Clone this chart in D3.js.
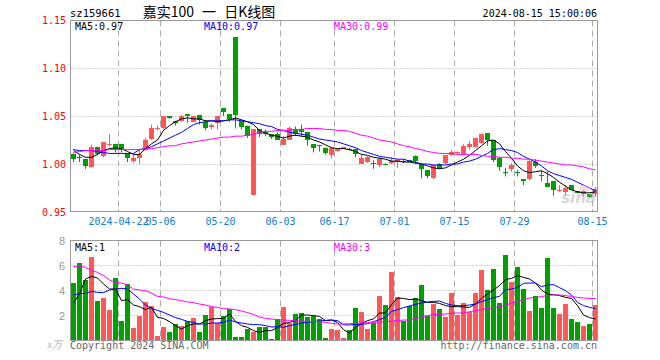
<!DOCTYPE html>
<html><head><meta charset="utf-8">
<script src="https://cdn.jsdelivr.net/npm/d3@7/dist/d3.min.js"></script>
<style>body{margin:0;background:#fff}svg{display:block}</style>
</head><body><div id="chart"></div>
<script>
const dates = [
"2024-04-10","2024-04-11","2024-04-12","2024-04-15","2024-04-16","2024-04-17","2024-04-18","2024-04-19","2024-04-22","2024-04-23","2024-04-24","2024-04-25","2024-04-26","2024-04-29","2024-04-30",
"2024-05-06","2024-05-07","2024-05-08","2024-05-09","2024-05-10","2024-05-13","2024-05-14","2024-05-15","2024-05-16","2024-05-17","2024-05-20","2024-05-21","2024-05-22","2024-05-23","2024-05-24","2024-05-27","2024-05-28","2024-05-29","2024-05-30","2024-05-31",
"2024-06-03","2024-06-04","2024-06-05","2024-06-06","2024-06-07","2024-06-11","2024-06-12","2024-06-13","2024-06-14","2024-06-17","2024-06-18","2024-06-19","2024-06-20","2024-06-21","2024-06-24","2024-06-25","2024-06-26","2024-06-27","2024-06-28",
"2024-07-01","2024-07-02","2024-07-03","2024-07-04","2024-07-05","2024-07-08","2024-07-09","2024-07-10","2024-07-11","2024-07-12","2024-07-15","2024-07-16","2024-07-17","2024-07-18","2024-07-19","2024-07-22","2024-07-23","2024-07-24","2024-07-25","2024-07-26","2024-07-29","2024-07-30","2024-07-31",
"2024-08-01","2024-08-02","2024-08-05","2024-08-06","2024-08-07","2024-08-08","2024-08-09","2024-08-12","2024-08-13","2024-08-14","2024-08-15"];

const opens = [1.010,1.007,1.005,0.997,1.018,1.008,1.020,1.021,1.021,1.011,1.003,1.006,1.015,1.026,1.036,1.037,1.050,1.045,1.045,1.052,1.044,1.051,1.044,1.039,1.043,1.058,1.052,1.132,1.045,1.040,
0.968,1.036,1.033,1.031,1.031,1.020,1.025,1.036,1.036,1.033,1.021,1.020,1.017,1.009,1.014,1.016,1.016,1.016,1.000,1.002,1.001,0.999,1.000,1.001,1.002,1.003,1.004,1.008,1.000,0.994,
0.985,1.000,1.001,1.009,1.011,1.010,1.018,1.018,1.022,1.032,1.025,1.006,0.992,0.995,0.992,0.984,0.984,1.002,0.989,0.980,0.982,0.972,0.971,0.978,0.972,0.969,0.969,0.969];
const highs = [1.011,1.010,1.005,1.020,1.018,1.023,1.031,1.021,1.021,1.011,1.010,1.015,1.027,1.041,1.040,1.050,1.050,1.045,1.051,1.052,1.050,1.051,1.046,1.042,1.050,1.058,1.052,1.132,1.045,1.040,
1.036,1.036,1.036,1.031,1.033,1.029,1.039,1.039,1.041,1.033,1.021,1.020,1.017,1.018,1.016,1.018,1.017,1.016,1.010,1.008,1.004,1.007,1.001,1.007,1.005,1.005,1.004,1.009,1.000,0.994,
0.999,1.001,1.009,1.015,1.013,1.021,1.024,1.027,1.032,1.032,1.025,1.007,0.996,1.001,0.994,0.984,1.004,1.005,0.993,0.992,0.982,0.978,0.978,0.978,0.972,0.973,0.969,0.976];
const lows = [1.002,1.002,0.995,0.996,1.009,1.007,1.018,1.012,1.012,1.002,1.001,1.000,1.014,1.025,1.035,1.036,1.047,1.040,1.044,1.043,1.044,1.041,1.035,1.036,1.036,1.050,1.044,1.037,1.036,1.027,
0.967,1.028,1.029,1.026,1.025,1.020,1.025,1.029,1.028,1.019,1.012,1.013,1.010,1.006,1.013,1.016,1.014,1.007,1.000,1.001,0.995,0.997,0.999,1.000,0.996,1.001,1.002,1.000,0.985,0.985,
0.984,0.995,1.000,1.008,1.010,1.009,1.015,1.017,1.021,1.019,1.002,0.993,0.987,0.992,0.987,0.978,0.983,0.996,0.982,0.976,0.967,0.971,0.967,0.973,0.970,0.966,0.965,0.966];
const closes = [1.005,1.006,0.998,1.018,1.010,1.023,1.021,1.015,1.015,1.006,1.006,1.010,1.025,1.037,1.038,1.050,1.048,1.043,1.050,1.050,1.050,1.046,1.037,1.041,1.050,1.054,1.047,1.051,1.039,1.029,
1.036,1.031,1.031,1.028,1.025,1.026,1.037,1.031,1.033,1.025,1.017,1.0195,1.011,1.017,1.016,1.018,1.015,1.010,1.006,1.007,1.000,1.005,0.9995,1.003,1.004,1.002,1.002,1.003,0.995,0.988,
0.999,0.996,1.009,1.012,1.012,1.019,1.021,1.027,1.031,1.025,1.004,0.997,0.9915,0.999,0.9915,0.982,1.003,0.998,0.987,0.976,0.973,0.9725,0.975,0.973,0.970,0.972,0.966,0.974];
const volumes = [4.67,6.27,4.91,6.75,3.23,3.47,2.51,5.01,1.63,4.59,1.07,1.97,3.15,2.83,0.37,1.15,0.75,1.36,1.23,1.60,1.87,0.75,2.11,2.75,1.44,1.97,2.53,0.35,0.35,0.99,
0.75,1.09,1.15,0.19,1.73,2.75,1.44,2.19,2.27,1.95,2.03,1.73,0.27,0.99,0.91,0.27,0.91,2.67,2.35,0.99,1.47,3.63,2.91,5.55,3.55,1.63,2.83,3.47,4.51,2.03,
2.99,2.59,1.95,3.87,2.11,3.07,2.35,3.87,5.71,4.11,5.79,3.07,6.91,4.75,5.95,4.19,2.43,3.63,2.67,6.67,2.67,2.19,2.99,1.79,1.55,1.23,1.39,2.91];

const ma5 = [1.014,1.010,1.007,1.007,1.010,1.014,1.016,1.017,1.016,1.013,1.010,1.010,1.016,1.021,1.025,1.035,1.040,1.044,1.047,1.048,1.047,1.047,1.045,1.045,1.044,1.045,1.046,1.048,1.046,1.044,
1.041,1.035,1.032,1.030,1.029,1.027,1.029,1.030,1.029,1.028,1.025,1.023,1.020,1.017,1.016,1.016,1.015,1.013,1.010,1.009,1.007,1.006,1.005,1.003,1.003,1.002,1.002,1.001,1.000,0.998,
0.996,0.995,0.996,0.999,1.002,1.005,1.009,1.014,1.019,1.024,1.025,1.021,1.013,1.006,0.998,0.993,0.991,0.992,0.993,0.990,0.986,0.981,0.977,0.973,0.971,0.970,0.970,0.971];
const ma10 = [1.015,1.014,1.014,1.014,1.013,1.012,1.011,1.011,1.011,1.011,1.011,1.015,1.016,1.018,1.021,1.024,1.027,1.030,1.033,1.037,1.041,1.043,1.044,1.045,1.045,1.045,1.046,1.046,1.045,1.044,
1.043,1.042,1.040,1.039,1.036,1.035,1.033,1.032,1.031,1.030,1.028,1.026,1.025,1.024,1.023,1.021,1.019,1.017,1.014,1.012,1.010,1.008,1.007,1.006,1.005,1.005,1.003,1.002,1.000,1.000,
0.999,0.999,0.999,1.000,1.000,1.002,1.003,1.005,1.008,1.011,1.015,1.016,1.015,1.014,1.012,1.008,1.005,1.002,0.998,0.993,0.990,0.988,0.986,0.984,0.981,0.978,0.975,0.972];
const ma30 = [1.012,1.013,1.014,1.014,1.014,1.014,1.015,1.015,1.015,1.015,1.015,1.015,1.016,1.016,1.017,1.018,1.019,1.019,1.021,1.022,1.023,1.024,1.025,1.026,1.027,1.028,1.028,1.029,1.029,1.030,
1.031,1.033,1.034,1.034,1.035,1.035,1.035,1.036,1.036,1.037,1.037,1.037,1.036,1.036,1.035,1.035,1.034,1.032,1.030,1.029,1.027,1.025,1.024,1.023,1.021,1.019,1.018,1.016,1.015,1.013,
1.012,1.011,1.011,1.011,1.010,1.010,1.010,1.010,1.009,1.008,1.008,1.007,1.007,1.006,1.006,1.005,1.005,1.004,1.003,1.002,1.001,1.000,0.999,0.999,0.998,0.997,0.995,0.994];

const vma5 = [3.04,3.76,4.96,5.17,5.04,4.56,4.16,4.16,3.23,3.31,2.88,2.75,2.51,2.69,1.89,1.81,1.55,1.23,0.96,1.23,1.36,1.36,1.63,1.76,1.79,1.81,2.16,1.57,1.23,1.09,
0.83,0.69,0.83,0.83,1.09,1.41,1.49,1.63,2.08,2.08,2.03,1.97,1.63,1.68,1.49,0.91,0.64,1.09,1.41,1.63,1.76,2.24,2.24,2.91,3.44,3.41,3.31,3.36,3.23,3.09,
3.09,3.01,2.83,2.75,2.75,2.72,2.69,2.96,3.41,3.76,4.08,4.43,4.91,5.01,5.23,5.09,4.96,4.64,4.08,3.76,3.71,3.63,3.49,3.41,2.83,2.08,1.87,1.76];
const vma10 = [3.68,3.79,3.81,3.97,3.89,3.87,4.08,4.16,4.21,4.16,3.76,3.36,2.88,2.61,2.45,2.29,2.08,1.87,1.73,1.57,1.49,1.36,1.36,1.44,1.44,1.49,1.68,1.52,1.44,1.36,
1.31,1.31,1.23,1.12,1.15,1.09,1.23,1.31,1.44,1.49,1.55,1.60,1.65,1.68,1.63,1.31,1.28,1.33,1.33,1.39,1.55,1.71,1.89,2.37,2.51,2.67,2.80,2.93,3.04,3.12,
3.17,3.20,3.01,2.88,2.83,2.83,2.88,2.96,3.15,3.31,3.47,3.57,4.11,4.16,4.29,4.61,4.64,4.64,4.35,4.48,4.51,4.27,4.03,3.68,3.09,2.83,2.69,2.59];
const vma30 = [5.95,6.00,5.89,5.65,5.49,5.25,4.88,4.67,4.64,4.48,4.16,4.08,4.03,3.84,3.57,3.52,3.39,3.31,3.23,3.12,3.07,2.96,2.88,2.75,2.69,2.59,2.56,2.51,2.40,2.27,
2.13,1.92,1.81,1.76,1.71,1.68,1.65,1.63,1.60,1.57,1.57,1.55,1.49,1.41,1.36,1.36,1.39,1.41,1.44,1.47,1.49,1.52,1.55,1.60,1.63,1.68,1.68,1.79,1.92,2.03,
2.11,2.13,2.16,2.21,2.24,2.24,2.35,2.43,2.51,2.59,2.67,2.75,2.88,3.04,3.15,3.31,3.44,3.49,3.55,3.65,3.68,3.68,3.63,3.57,3.49,3.44,3.41,3.39];

const priceTicks = [0.95,1.00,1.05,1.10,1.15];
const priceTickLabels = ["0.95","1.00","1.05","1.10","1.15"];
const volTicks = [2,4,6,8];
const dateTicks = ["2024-04-22","2024-05-06","2024-05-20","2024-06-03","2024-06-17","2024-07-01","2024-07-15","2024-07-29","2024-08-15"];
const dateTickLabels = ["2024-04-22","05-06","05-20","06-03","06-17","07-01","07-15","07-29","08-15"];
const titleCode = "sz159661";
const titleName = "嘉实100 一 日K线图";
const stamp = "2024-08-15 15:00:06";
const priceLegend = ["MA5:0.97","MA10:0.97","MA30:0.99"];
const volLegend = ["MA5:1","MA10:2","MA30:3"];

const RED = "#ff5757", GREEN = "#00a000", GRID = "#aaaaaa", BORDER = "#999999";
const MONO = "'DejaVu Sans Mono', 'Liberation Mono', monospace";

const svg = d3.select("#chart").append("svg").attr("width",660).attr("height",360);

const x = d3.scaleBand().domain(dates).range([71,599]).paddingInner(0).paddingOuter(0);
const y = d3.scaleLinear().domain([0.95,1.15]).range([212,20]);
const yv = d3.scaleLinear().domain([0,8]).range([341,241]);
const L = 70.5, R = 597.5;

const data = dates.map((d,i)=>({d, o:opens[i], h:highs[i], l:lows[i], c:closes[i], v:volumes[i],
  m5:ma5[i], m10:ma10[i], m30:ma30[i], vm5:vma5[i], vm10:vma10[i], vm30:vma30[i]}));
const col = d => d.c >= d.o ? RED : GREEN;

// ---- main grid
const gMain = svg.append("g");
gMain.selectAll("line.h").data([1.00,1.05,1.10]).join("line")
  .attr("x1",L).attr("x2",R).attr("y1",d=>Math.round(y(d))+0.5).attr("y2",d=>Math.round(y(d))+0.5)
  .attr("stroke",GRID).attr("stroke-dasharray","1,2");
gMain.selectAll("line.v").data(dateTicks).join("line")
  .attr("x1",d=>x(d)-0.5).attr("x2",d=>x(d)-0.5).attr("y1",20.5).attr("y2",211.5)
  .attr("stroke",GRID).attr("stroke-dasharray","6,4");

// volume grid
const gVol = svg.append("g");
gVol.selectAll("line.h").data([2,4,6]).join("line")
  .attr("x1",L).attr("x2",R).attr("y1",d=>Math.round(yv(d))-0.5).attr("y2",d=>Math.round(yv(d))-0.5)
  .attr("stroke",GRID).attr("stroke-dasharray","1,2");
gVol.selectAll("line.v").data(dateTicks).join("line")
  .attr("x1",d=>x(d)-0.5).attr("x2",d=>x(d)-0.5).attr("y1",240.5).attr("y2",340.5)
  .attr("stroke",GRID).attr("stroke-dasharray","6,4");

// ---- candles
const gC = svg.append("g");
gC.selectAll("line.wick").data(data).join("line")
  .attr("x1",d=>x(d.d)+2.5).attr("x2",d=>x(d.d)+2.5)
  .attr("y1",d=>y(d.h)).attr("y2",d=>y(d.l)).attr("stroke",col).attr("stroke-width",1);
gC.selectAll("rect.body").data(data).join("rect")
  .attr("x",d=>x(d.d)).attr("width",5)
  .attr("y",d=>Math.round(y(Math.max(d.o,d.c))))
  .attr("height",d=>Math.max(1,Math.round(y(Math.min(d.o,d.c))) - Math.round(y(Math.max(d.o,d.c)))))
  .attr("fill",col);

// ---- volume bars
gVol.selectAll("rect.bar").data(data).join("rect")
  .attr("x",d=>x(d.d)).attr("width",5)
  .attr("y",d=>Math.round(yv(d.v))).attr("height",d=>340-Math.round(yv(d.v)))
  .attr("fill",col);

// ---- MA lines
const cx = d => x(d.d)+2.5;
const lineDefs = [["m5","#000000"],["m10","#0000ff"],["m30","#ff00ff"]];
lineDefs.forEach(([k,c])=>{
  svg.append("path").datum(data).attr("fill","none").attr("stroke",c).attr("stroke-width",1)
    .attr("d",d3.line().x(cx).y(d=>y(d[k])));
});
const vlineDefs = [["vm5","#000000"],["vm10","#0000ff"],["vm30","#ff00ff"]];
vlineDefs.forEach(([k,c])=>{
  svg.append("path").datum(data).attr("fill","none").attr("stroke",c).attr("stroke-width",1)
    .attr("d",d3.line().x(cx).y(d=>yv(d[k])));
});

// ---- watermark
const wm = svg.append("g").attr("opacity",0.5);
wm.append("ellipse").attr("cx",585).attr("cy",188).attr("rx",6).attr("ry",3.5).attr("fill","#f4b8b8");
wm.append("text").attr("x",596).attr("y",203).attr("text-anchor","end")
  .attr("font-family","'DejaVu Sans', sans-serif").attr("font-weight","bold").attr("font-style","italic")
  .attr("font-size",15).attr("fill","#b0b0b0").text("sina");

// ---- borders
svg.append("rect").attr("x",L).attr("y",20.5).attr("width",R-L).attr("height",191).attr("fill","none").attr("stroke",BORDER);
svg.append("rect").attr("x",L).attr("y",240.5).attr("width",R-L).attr("height",100).attr("fill","none").attr("stroke",BORDER);

// x axis ticks + labels
const xa = svg.append("g").attr("transform","translate(0,211.5)");
xa.selectAll("line").data(dateTicks).join("line")
  .attr("x1",d=>x(d)-0.5).attr("x2",d=>x(d)-0.5).attr("y1",-2).attr("y2",0).attr("stroke",BORDER);
xa.selectAll("text").data(dateTicks).join("text")
  .attr("x",d=>x(d)-0.5).attr("y",13).attr("text-anchor","middle")
  .attr("font-family",MONO).attr("font-size",10).attr("fill","#0a7fcc")
  .text((d,i)=>dateTickLabels[i]);

// y labels
svg.append("g").selectAll("text").data(priceTicks).join("text")
  .attr("x",66).attr("y",(d,i)=>y(d)+4).attr("text-anchor","end")
  .attr("font-family",MONO).attr("font-size",10).attr("fill","#ff0000")
  .text((d,i)=>priceTickLabels[i]);
svg.append("g").selectAll("text").data(volTicks).join("text")
  .attr("x",65).attr("y",d=>yv(d)+4).attr("text-anchor","end")
  .attr("font-family","'Liberation Sans', Arial, sans-serif").attr("font-size",11).attr("fill","#999999")
  .text(d=>d);
svg.append("text").attr("x",62).attr("y",348).attr("text-anchor","end")
  .attr("font-family","'Liberation Serif', serif").attr("font-style","italic").attr("font-size",10).attr("fill","#aaaaaa").text("x万");

// titles
svg.append("text").attr("x",70).attr("y",17).attr("font-family",MONO).attr("font-size",10.5).attr("fill","#000").text(titleCode);
svg.append("text").attr("x",209).attr("y",17).attr("text-anchor","middle").style("white-space","pre").style("word-spacing","5px")
  .attr("font-family","'Noto Sans CJK SC', sans-serif").attr("font-size",14).attr("fill","#000").text(titleName);
svg.append("text").attr("x",597).attr("y",17).attr("text-anchor","end").attr("font-family",MONO).attr("font-size",10).attr("fill","#000").text(stamp);

// legends
const legCols = ["#000000","#0000ff","#ff00ff"], legX = [75,204,334];
svg.append("g").selectAll("text").data(priceLegend).join("text")
  .attr("x",(d,i)=>legX[i]).attr("y",30).attr("font-family",MONO).attr("font-size",10)
  .attr("fill",(d,i)=>legCols[i]).text(d=>d);
svg.append("g").selectAll("text").data(volLegend).join("text")
  .attr("x",(d,i)=>legX[i]).attr("y",251).attr("font-family",MONO).attr("font-size",10)
  .attr("fill",(d,i)=>legCols[i]).text(d=>d);

// footer
svg.append("text").attr("x",70).attr("y",349).attr("font-family",MONO).attr("font-size",10).attr("fill","#666").text("Copyright 2024 SINA.COM");
svg.append("text").attr("x",597).attr("y",349).attr("text-anchor","end").attr("font-family",MONO).attr("font-size",10).attr("fill","#666").text("http://finance.sina.com.cn");
</script></body></html>
